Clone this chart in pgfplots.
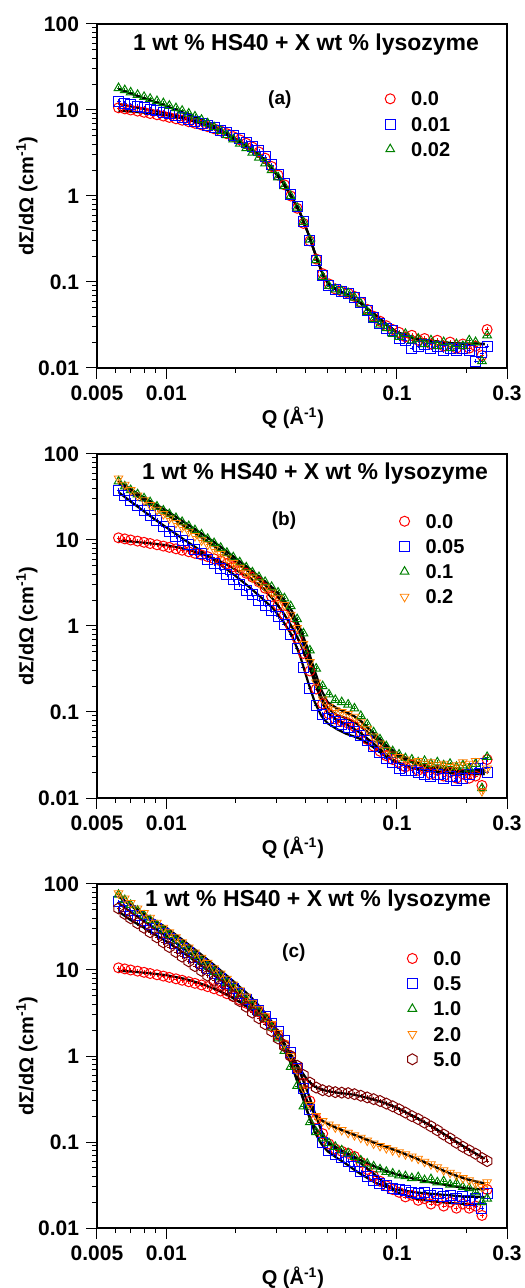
\documentclass[border=0pt]{standalone}
\usepackage{fontspec}
\setmainfont{Liberation Sans}
\usepackage{pgfplots}
\usepackage{pgfplotstable}
\pgfplotsset{compat=1.18}
\usetikzlibrary{plotmarks}

\definecolor{cred}{RGB}{255,0,0}
\definecolor{cblue}{RGB}{0,0,255}
\definecolor{cgreen}{RGB}{0,128,0}
\definecolor{corange}{RGB}{255,128,0}
\definecolor{cbrown}{RGB}{128,0,0}

% hexagon marker, pointy top
\pgfdeclareplotmark{hexagon}{%
  \pgfpathmoveto{\pgfpointpolar{90}{1.1\pgfplotmarksize}}%
  \pgfpathlineto{\pgfpointpolar{150}{1.1\pgfplotmarksize}}%
  \pgfpathlineto{\pgfpointpolar{210}{1.1\pgfplotmarksize}}%
  \pgfpathlineto{\pgfpointpolar{270}{1.1\pgfplotmarksize}}%
  \pgfpathlineto{\pgfpointpolar{330}{1.1\pgfplotmarksize}}%
  \pgfpathlineto{\pgfpointpolar{30}{1.1\pgfplotmarksize}}%
  \pgfpathclose\pgfusepathqstroke}

% panel (a) data: 0.0, 0.01, 0.02 wt% lysozyme
\pgfplotstableread{
q      r      b      g
0.0062 10.6   12.5   18
0.0066 10.3   12.0   17
0.0070 10.0   11.5   16
0.0075 9.7    11.0   15
0.0080 9.4    10.6   14.2
0.0085 9.1    10.2   13.5
0.0091 8.8    9.8    12.7
0.0097 8.5    9.4    12
0.0103 8.2    9.0    11.2
0.0110 7.9    8.6    10.5
0.0117 7.6    8.2    9.8
0.0125 7.3    7.8    9.1
0.0133 7.0    7.4    8.4
0.0142 6.7    7.0    7.7
0.0151 6.4    6.6    7.0
0.0161 6.05   6.2    6.3
0.0172 5.7    5.8    5.7
0.0183 5.3    5.4    5.1
0.0195 4.9    5.0    4.55
0.0208 4.5    4.6    4.05
0.0222 4.1    4.2    3.6
0.0236 3.7    3.8    3.2
0.0252 3.25   3.35   2.8
0.0268 2.75   2.85   2.4
0.0286 2.2    2.3    2.0
0.0305 1.75   1.8    1.65
0.0325 1.35   1.4    1.3
0.0346 1.0    1.05   1.0
0.0369 0.72   0.75   0.73
0.0393 0.48   0.5    0.5
0.0419 0.30   0.3    0.31
0.0446 0.185  0.18   0.18
0.0476 0.125  0.12   0.115
0.0507 0.095  0.092  0.09
0.0540 0.083  0.082  0.082
0.0576 0.078  0.077  0.078
0.0614 0.074  0.073  0.074
0.0654 0.068  0.066  0.066
0.0697 0.058  0.057  0.056
0.0743 0.048  0.047  0.045
0.0792 0.040  0.039  0.037
0.0844 0.035  0.033  0.032
0.0899 0.031  0.029  0.029
0.0958 0.028  0.027  0.025
0.1021 0.026  0.022  0.023
0.1088 0.023  0.021  0.025
0.1160 0.024  0.017  0.021
0.1236 0.021  0.018  0.022
0.1317 0.022  0.019  0.019
0.1404 0.019  0.017  0.021
0.1496 0.021  0.018  0.018
0.1594 0.018  0.016  0.020
0.1699 0.020  0.017  0.017
0.1811 0.017  0.016  0.019
0.1930 0.019  0.017  0.018
0.2057 0.017  0.016  0.021
0.2192 0.018  0.012  0.020
0.2336 0.014  0.015  0.012
0.2460 0.028  0.018  0.024
}\tabA

% panel (b) data: 0.05, 0.1, 0.2 wt% lysozyme
\pgfplotstableread{
q      b      g      o
0.0062 38     48     52
0.0066 33     42     44
0.0070 29     38     38
0.0075 25     34     33
0.0080 22     30.5   29
0.0085 19.5   27.5   25.5
0.0091 17     24.5   22.5
0.0097 14.5   22     20
0.0103 12.5   20     17.8
0.0110 11     18     15.8
0.0117 9.8    16.2   14
0.0125 8.8    14.5   12.5
0.0133 7.8    13     11.1
0.0142 6.9    11.6   9.9
0.0151 6.0    10.3   8.8
0.0161 5.3    9.2    7.8
0.0172 4.6    8.1    6.9
0.0183 4.0    7.1    6.1
0.0195 3.5    6.3    5.4
0.0208 3.05   5.5    4.75
0.0222 2.6    4.8    4.15
0.0236 2.3    4.2    3.65
0.0252 2.0    3.7    3.2
0.0268 1.75   3.25   2.8
0.0286 1.5    2.85   2.45
0.0305 1.28   2.45   2.1
0.0325 1.05   2.1    1.75
0.0346 0.8    1.7    1.35
0.0369 0.55   1.2    0.95
0.0393 0.33   0.82   0.62
0.0419 0.19   0.52   0.38
0.0446 0.12   0.32   0.22
0.0476 0.094  0.2    0.14
0.0507 0.085  0.16   0.115
0.0540 0.078  0.138  0.105
0.0576 0.072  0.13   0.1
0.0614 0.066  0.122  0.095
0.0654 0.06   0.11   0.088
0.0697 0.053  0.09   0.076
0.0743 0.047  0.072  0.064
0.0792 0.04   0.058  0.052
0.0844 0.034  0.048  0.043
0.0899 0.029  0.04   0.036
0.0958 0.026  0.035  0.032
0.1021 0.022  0.032  0.03
0.1088 0.021  0.029  0.028
0.1160 0.021  0.028  0.026
0.1236 0.02   0.026  0.027
0.1317 0.019  0.027  0.025
0.1404 0.018  0.025  0.026
0.1496 0.019  0.026  0.024
0.1594 0.017  0.024  0.025
0.1699 0.018  0.025  0.023
0.1811 0.016  0.023  0.024
0.1930 0.017  0.024  0.026
0.2057 0.019  0.022  0.025
0.2192 0.022  0.025  0.027
0.2336 0.025  0.013  0.012
0.2460 0.02   0.03   0.022
}\tabB

% panel (c) data: 0.5, 1.0, 2.0, 5.0 wt% lysozyme
\pgfplotstableread{
q      b      g      o      k
0.0062 62     75     78     52
0.0066 55     65     68     45
0.0070 49     57     60     40
0.0075 43     49     52     35
0.0080 38     43     46     31
0.0085 34     38     40.5   27.5
0.0091 30     33     35.5   24
0.0097 26.5   29     31     21
0.0103 23.5   25.5   27.5   18.5
0.0110 20.5   22     24     16.2
0.0117 18     19.2   21     14.3
0.0125 15.8   16.8   18.3   12.6
0.0133 13.8   14.6   16     11.1
0.0142 12     12.6   13.9   9.8
0.0151 10.5   11     12.1   8.6
0.0161 9.2    9.5    10.5   7.5
0.0172 8      8.2    9.1    6.6
0.0183 7      7.1    7.9    5.8
0.0195 6.1    6.1    6.8    5.0
0.0208 5.3    5.2    5.8    4.35
0.0222 4.6    4.45   4.9    3.75
0.0236 4.0    3.8    4.15   3.2
0.0252 3.4    3.2    3.5    2.75
0.0268 2.9    2.7    2.9    2.35
0.0286 2.4    2.15   2.35   1.95
0.0305 1.95   1.6    1.85   1.6
0.0325 1.5    1.15   1.4    1.3
0.0346 1.1    0.75   1.0    1.0
0.0369 0.72   0.45   0.68   0.77
0.0393 0.42   0.26   0.42   0.6
0.0419 0.24   0.17   0.27   0.49
0.0446 0.14   0.13   0.2    0.43
0.0476 0.1    0.11   0.175  0.4
0.0507 0.08   0.097  0.16   0.39
0.0540 0.072  0.088  0.148  0.38
0.0576 0.066  0.08   0.138  0.375
0.0614 0.06   0.074  0.128  0.37
0.0654 0.052  0.067  0.12   0.36
0.0697 0.045  0.061  0.112  0.345
0.0743 0.04   0.056  0.104  0.33
0.0792 0.036  0.052  0.096  0.315
0.0844 0.033  0.048  0.09   0.3
0.0899 0.031  0.045  0.085  0.28
0.0958 0.029  0.043  0.08   0.26
0.1021 0.028  0.041  0.076  0.24
0.1088 0.027  0.04   0.072  0.22
0.1160 0.026  0.038  0.068  0.2
0.1236 0.025  0.039  0.064  0.185
0.1317 0.026  0.036  0.059  0.168
0.1404 0.024  0.037  0.055  0.152
0.1496 0.025  0.034  0.051  0.137
0.1594 0.023  0.035  0.047  0.122
0.1699 0.024  0.032  0.044  0.11
0.1811 0.022  0.033  0.041  0.098
0.1930 0.023  0.03   0.038  0.088
0.2057 0.021  0.029  0.036  0.08
0.2192 0.022  0.026  0.033  0.073
0.2336 0.017  0.02   0.03   0.065
0.2460 0.025  0.022  0.034  0.06
}\tabC

% model fits
\pgfplotstableread{
q      r      b      g
0.0062 9.8    11.8   17.5
0.007  9.6    11.0   15.5
0.008  9.3    10.3   13.7
0.009  9.0    9.7    12.3
0.010  8.7    9.2    11.1
0.012  7.9    8.2    9.2
0.014  7.0    7.2    7.8
0.016  6.1    6.2    6.5
0.018  5.3    5.35   5.5
0.020  4.5    4.5    4.6
0.023  3.6    3.6    3.6
0.026  2.8    2.8    2.75
0.029  2.05   2.05   2.0
0.032  1.45   1.45   1.42
0.035  0.98   0.98   0.96
0.038  0.64   0.64   0.63
0.041  0.38   0.38   0.38
0.044  0.22   0.22   0.22
0.047  0.135  0.135  0.135
0.050  0.098  0.098  0.098
0.055  0.08   0.08   0.08
0.060  0.072  0.072  0.072
0.065  0.064  0.064  0.064
0.070  0.056  0.056  0.056
0.080  0.042  0.042  0.042
0.090  0.032  0.032  0.032
0.100  0.026  0.026  0.026
0.120  0.022  0.022  0.022
0.140  0.0205 0.0205 0.0205
0.170  0.0195 0.0195 0.0195
0.200  0.019  0.019  0.019
0.240  0.019  0.019  0.019
}\fitA

\pgfplotstableread{
q      b      g      o
0.0062 36     48     46
0.007  28     39     36
0.008  21.5   31     29
0.009  17     26     24
0.010  14     22     20
0.012  10     16     14.5
0.014  7.6    12.2   11
0.016  5.9    9.6    8.6
0.018  4.7    7.6    6.9
0.020  3.8    6.1    5.6
0.023  2.8    4.6    4.2
0.026  2.1    3.5    3.2
0.029  1.6    2.75   2.5
0.032  1.15   2.1    1.9
0.035  0.78   1.5    1.3
0.038  0.45   0.95   0.82
0.041  0.23   0.55   0.46
0.044  0.13   0.3    0.25
0.047  0.09   0.18   0.15
0.050  0.074  0.13   0.11
0.055  0.063  0.11   0.092
0.060  0.056  0.1    0.085
0.065  0.052  0.09   0.077
0.070  0.048  0.078  0.067
0.080  0.038  0.055  0.05
0.090  0.03   0.041  0.038
0.100  0.026  0.033  0.031
0.120  0.022  0.026  0.025
0.140  0.0205 0.023  0.022
0.170  0.0195 0.022  0.021
0.200  0.019  0.021  0.02
0.240  0.019  0.021  0.02
}\fitB

\pgfplotstableread{
q      b      g      o      k
0.0062 60     72     72     48
0.007  47     56     57     38
0.008  37     43     45     31
0.009  30     35     37     25.5
0.010  25     28.5   31     21.5
0.012  17.5   19.5   21.5   15.5
0.014  12.8   14     15.5   11.5
0.016  9.6    10.5   11.6   8.8
0.018  7.4    8      8.9    6.9
0.020  5.8    6.2    7      5.5
0.023  4.1    4.4    5      4.0
0.026  2.9    3.1    3.5    2.9
0.029  2.0    2.1    2.4    2.05
0.032  1.3    1.35   1.55   1.45
0.035  0.78   0.78   0.9    1.0
0.038  0.42   0.4    0.48   0.7
0.041  0.22   0.22   0.29   0.52
0.044  0.13   0.15   0.21   0.44
0.047  0.095  0.12   0.18   0.41
0.050  0.078  0.1    0.163  0.39
0.055  0.065  0.085  0.145  0.375
0.060  0.056  0.075  0.132  0.365
0.065  0.048  0.067  0.122  0.355
0.070  0.042  0.061  0.113  0.34
0.080  0.034  0.052  0.098  0.31
0.090  0.03   0.046  0.088  0.28
0.100  0.028  0.042  0.079  0.25
0.120  0.026  0.037  0.065  0.195
0.140  0.025  0.034  0.054  0.155
0.170  0.024  0.031  0.043  0.112
0.200  0.023  0.029  0.037  0.085
0.240  0.023  0.028  0.033  0.064
}\fitC

\newcommand{\bfs}[1]{\fontsize{#1}{#1}\selectfont\bfseries}

% one panel: #1 = y of top edge, #2 = legend position
\newcommand{\panelaxis}[2]{%
\begin{axis}[
    at={(48.5pt,#1)}, anchor=north west,
    xmode=log, ymode=log, scale only axis, width=205pt, height=172pt,
    xmin=0.005, xmax=0.3, ymin=0.01, ymax=100,
    xtick={0.005,0.01,0.1,0.3}, xticklabels={0.005,0.01,0.1,0.3},
    minor xtick={0.006,0.007,0.008,0.009,0.02,0.03,0.04,0.05,0.06,0.07,0.08,0.09,0.2},
    ytick={0.01,0.1,1,10,100}, yticklabels={0.01,0.1,1,10,100},
    minor ytick={0.02,0.03,0.04,0.05,0.06,0.07,0.08,0.09,0.2,0.3,0.4,0.5,0.6,0.7,0.8,0.9,
      2,3,4,5,6,7,8,9,20,30,40,50,60,70,80,90},
    xtick pos=bottom, ytick pos=left, tick align=outside,
    major tick length=5.5pt, minor tick length=2.5pt,
    axis line style={line width=0.8pt},
    major tick style={black, line width=0.5pt},
    minor tick style={black, line width=0.5pt},
    xticklabel style={font=\bfs{10.5}},
    yticklabel style={font=\bfs{10.5}},
    xlabel={Q (Å\textsuperscript{-1})},
    ylabel={dΣ/dΩ (cm\textsuperscript{-1})},
    xlabel style={font=\bfs{10}, at={(axis description cs:0.478,-0.144)}, anchor=center},
    ylabel style={font=\bfs{10}, at={(axis description cs:-0.171,0.5)}, anchor=center},
    legend cell align=left,
    legend style={draw=none, fill=none, inner sep=0pt, anchor=north west,
      at={#2}, font=\bfs{10}, row sep=5.6pt, column sep=8pt,
      nodes={inner sep=0pt, text height=7pt, text depth=0pt}},
    clip=false,
  ]}

\pgfplotsset{
  dat/.style={#1, only marks, mark size=2.5pt,
    mark options={line width=0.5pt, fill=none, #1},
    error bars/x dir=both, error bars/x fixed relative=0.02,
    error bars/y dir=both, error bars/y fixed relative=0.06,
    error bars/error mark=none,
    error bars/error bar style={line width=0.3pt, #1}},
  fitline/.style={black, line width=1.1pt, no markers, forget plot},
}

\begin{document}
\begin{tikzpicture}
\useasboundingbox (0,0) rectangle (262pt,644pt);

% ---------------- (a)
\panelaxis{632pt}{(0.702,0.804)}
\addplot[dat=cred, mark=o] table[x=q,y=r]{\tabA};
\addlegendentry{0.0}
\addplot[dat=cblue, mark=square] table[x=q,y=b]{\tabA};
\addlegendentry{0.01}
\addplot[dat=cgreen, mark=triangle] table[x=q,y=g]{\tabA};
\addlegendentry{0.02}
\addplot[fitline] table[x=q,y=r]{\fitA};
\addplot[fitline] table[x=q,y=b]{\fitA};
\addplot[fitline] table[x=q,y=g]{\fitA};
\node[font=\bfs{11.5}] at (rel axis cs:0.51,0.94) {1 wt \% HS40 + X wt \% lysozyme};
\node[font=\bfs{9.5}] at (rel axis cs:0.446,0.779) {(a)};
\end{axis}

% ---------------- (b)
\panelaxis{417pt}{(0.737,0.826)}
\addplot[dat=cred, mark=o] table[x=q,y=r]{\tabA};
\addlegendentry{0.0}
\addplot[dat=cblue, mark=square] table[x=q,y=b]{\tabB};
\addlegendentry{0.05}
\addplot[dat=cgreen, mark=triangle] table[x=q,y=g]{\tabB};
\addlegendentry{0.1}
\addplot[dat=corange, mark=triangle, mark options={rotate=180}] table[x=q,y=o]{\tabB};
\addlegendentry{0.2}
\addplot[fitline] table[x=q,y=r]{\fitA};
\addplot[fitline] table[x=q,y=b]{\fitB};
\addplot[fitline] table[x=q,y=g]{\fitB};
\addplot[fitline] table[x=q,y=o]{\fitB};
\node[font=\bfs{11.5}] at (rel axis cs:0.532,0.942) {1 wt \% HS40 + X wt \% lysozyme};
\node[font=\bfs{9.5}] at (rel axis cs:0.456,0.806) {(b)};
\end{axis}

% ---------------- (c)
\panelaxis{202pt}{(0.756,0.805)}
\addplot[dat=cred, mark=o] table[x=q,y=r]{\tabA};
\addlegendentry{0.0}
\addplot[dat=cblue, mark=square] table[x=q,y=b]{\tabC};
\addlegendentry{0.5}
\addplot[dat=cgreen, mark=triangle] table[x=q,y=g]{\tabC};
\addlegendentry{1.0}
\addplot[dat=corange, mark=triangle, mark options={rotate=180}] table[x=q,y=o]{\tabC};
\addlegendentry{2.0}
\addplot[dat=cbrown, mark=hexagon] table[x=q,y=k]{\tabC};
\addlegendentry{5.0}
\addplot[fitline] table[x=q,y=r]{\fitA};
\addplot[fitline] table[x=q,y=b]{\fitC};
\addplot[fitline] table[x=q,y=g]{\fitC};
\addplot[fitline] table[x=q,y=o]{\fitC};
\addplot[fitline] table[x=q,y=k]{\fitC};
\node[font=\bfs{11.5}] at (rel axis cs:0.539,0.951) {1 wt \% HS40 + X wt \% lysozyme};
\node[font=\bfs{9.5}] at (rel axis cs:0.48,0.80) {(c)};
\end{axis}
\end{tikzpicture}
\end{document}
